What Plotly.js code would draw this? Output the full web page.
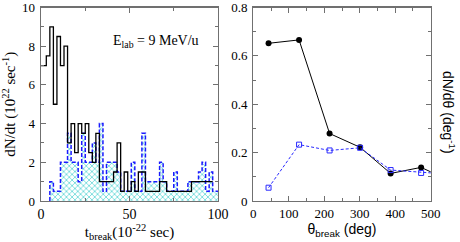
<!DOCTYPE html>
<html>
<head>
<meta charset="utf-8">
<script src="https://cdn.plot.ly/plotly-3.0.1.min.js"></script>
<style>html,body{margin:0;padding:0;background:#fff;}#chart{width:460px;height:242px;}</style>
</head>
<body>
<div id="chart"></div>
<script>
// ---- Left panel: break-time histograms (bin centres in 10^-22 sec, counts) ----
const binWidth = 2;
const blackBinCenters = [0,2,4,6,8,10,12,14,16,18,20,22,24,26,28,30,32,34,36,38,40,42,44,46,48,50,52,54,56,58,60,62,64,66,68,70,72,74,76,78,80,82,84,86,88,90,92,94,96];
const blackCounts     = [7,7,7.5,9,5,8.5,7,8,3,4,2.5,4,3.5,4,2.5,2,3.5,1,1,1,1,1.5,3,0.5,1.5,0.5,1,0.5,1.5,1.5,0.5,0.5,0.5,0.5,1,1,0.5,0.5,0.5,0.5,0.5,0.5,0.5,1,1,1,1,1,1];
const blueBinCenters  = [6,8,10,12,14,16,18,20,22,24,26,28,30,32,34,36,38,40,42,44,46,48,50,52,54,56,58,60,62,64,66,68,70,72,74,76,78,80,82,84,86,88,90,92,94,96,98,100];
const blueCounts      = [1,0.5,0.5,2,2,3.5,2,2,1,3.5,2,2,3,2,4,0.5,2,2,2,1.5,0.5,0.5,0.5,2,0.5,0.5,3.5,1,1,1,1,2,1,0.5,0.5,1.5,0.5,0.5,0.5,1,1,1,1.5,2,0.5,1.5,0.5,0.5];

// ---- Right panel: angular distributions ----
const thetaBreak = [43,129,215,301,387,473,559];
const blackDist  = [0.652,0.666,0.279,0.222,0.114,0.139,0.08];
const blueDist   = [0.055,0.233,0.209,0.220,0.128,0.116,0.11];

const xTickLeft = [0,50,100];
const yTickLeft = [0,2,4,6,8,10];
const xTickRight = [0,100,200,300,400,500];
const yTickRight = [0,0.2,0.4,0.6,0.8];

function stepXY(centers, counts, startAtZero){
  const x=[], y=[];
  if(startAtZero){ x.push(centers[0]-binWidth/2); y.push(0); }
  for(let i=0;i<centers.length;i++){ x.push(centers[i]-binWidth/2); y.push(counts[i]); }
  x.push(centers[centers.length-1]+binWidth/2); y.push(counts[counts.length-1]);
  return {x,y};
}
const bl = stepXY(blackBinCenters, blackCounts, false);
const bu = stepXY(blueBinCenters, blueCounts, true);

const serif = "Liberation Serif, Times New Roman, serif";
const sans = "Liberation Sans, Arial, sans-serif";
const frame = '#707070';

const traces = [
  {x: bu.x, y: bu.y, xaxis:'x', yaxis:'y', mode:'lines', line:{shape:'hv', color:'#1a1aff', width:1.5, dash:'4px,2px'},
   fill:'tozeroy', fillcolor:'rgba(0,0,0,0)',
   fillpattern:{shape:'x', fgcolor:'#5cd6d6', bgcolor:'#ffffff', size:4, solidity:0.35}, hoverinfo:'skip'},
  {x: bl.x, y: bl.y, xaxis:'x', yaxis:'y', mode:'lines', line:{shape:'hv', color:'#000000', width:1.3}},
  {x: thetaBreak, y: blackDist, xaxis:'x2', yaxis:'y2', mode:'lines+markers', line:{color:'#000', width:1},
   marker:{symbol:'circle', size:6, color:'#000'}},
  {x: thetaBreak, y: blueDist, xaxis:'x2', yaxis:'y2', mode:'lines+markers', line:{color:'#2a2aff', width:1, dash:'3px,2px'},
   marker:{symbol:'square-open', size:5, color:'#2a2aff', line:{width:1}}}
];

const axBase = {showgrid:false, zeroline:false, showline:true, linecolor:frame, linewidth:1.3,
  mirror:'allticks', ticks:'inside', ticklen:5, tickcolor:frame, tickwidth:1, automargin:false,
  ticklabeloverflow:'allow'};

const yTop = 1-7.5/242, yBot = 41/242;

const layout = {
  width:460, height:242, margin:{l:0,r:0,t:0,b:0}, showlegend:false,
  paper_bgcolor:'#fff', plot_bgcolor:'#fff',
  xaxis: Object.assign({}, axBase, {domain:[41/460, 218/460], range:[0,100], tickvals:xTickLeft,
    minor:{dtick:25, ticks:'inside', ticklen:3, tickcolor:frame},
    tickfont:{family:serif, size:14, color:'#000'},
    title:{text:'t<sub>break</sub>(10<sup>-22</sup> sec)', font:{family:serif, size:15, color:'#000'}, standoff:3}}),
  yaxis: Object.assign({}, axBase, {domain:[yBot, yTop], range:[0,10], tickvals:yTickLeft,
    minor:{dtick:1, ticks:'inside', ticklen:3, tickcolor:frame},
    tickfont:{family:serif, size:13, color:'#000'}, ticklabelstandoff:2,
    title:{text:'dN/dt (10<sup>22</sup> sec<sup>-1</sup>)', font:{family:serif, size:15, color:'#000'}, standoff:3}}),
  xaxis2: Object.assign({}, axBase, {domain:[253.3/460, 430.7/460], range:[0,500], tickvals:xTickRight, anchor:'y2',
    minor:{dtick:50, ticks:'inside', ticklen:3, tickcolor:frame},
    tickfont:{family:serif, size:13, color:'#000'},
    title:{text:'θ<sub>break</sub> (deg)', font:{family:sans, size:14, color:'#000'}, standoff:3}}),
  yaxis2: Object.assign({}, axBase, {domain:[yBot, yTop], range:[0,0.8], tickvals:yTickRight, anchor:'x2',
    minor:{dtick:0.1, ticks:'inside', ticklen:3, tickcolor:frame},
    tickfont:{family:serif, size:13, color:'#000'}, ticklabelstandoff:2}),
  annotations:[
    {xref:'paper', yref:'paper', x:111/460, y:1-41/242, xanchor:'left', yanchor:'middle', showarrow:false,
     text:'E<sub>lab</sub> = 9 MeV/u', font:{family:serif, size:14, color:'#000'}},
    {xref:'paper', yref:'paper', x:449/460, y:1-112/242, xanchor:'center', yanchor:'middle', showarrow:false, textangle:90,
     text:'dN/dθ (deg<sup>-1</sup>)', font:{family:sans, size:14, color:'#000'}}
  ]
};

Plotly.newPlot('chart', traces, layout, {staticPlot:true, displayModeBar:false});
</script>
</body>
</html>
